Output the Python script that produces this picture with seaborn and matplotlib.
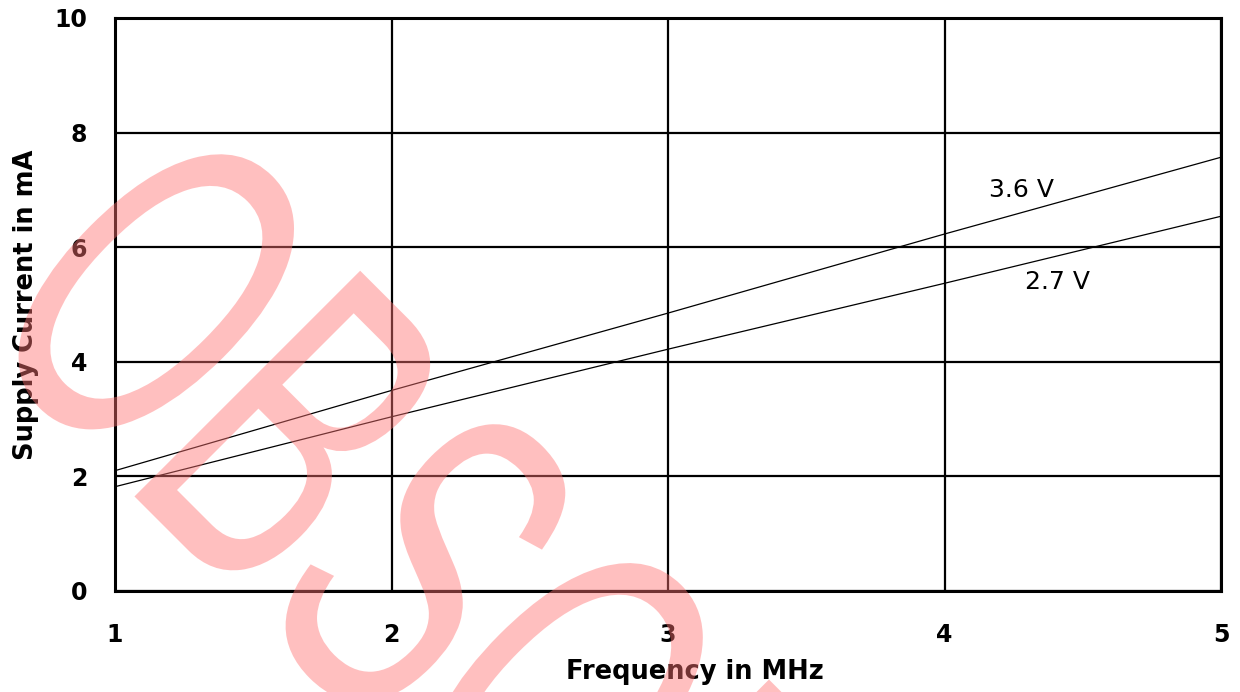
import numpy as np
import pandas as pd
import matplotlib
matplotlib.use("Agg")
import matplotlib.pyplot as plt
import seaborn as sns
from matplotlib.textpath import TextPath
from matplotlib.patches import PathPatch
from matplotlib.font_manager import FontProperties
from matplotlib.transforms import Affine2D

# data
freq_mhz = [1, 2, 3, 4, 5]
current_36v = [2.10, 3.50, 4.85, 6.23, 7.57]
current_27v = [1.82, 3.04, 4.22, 5.37, 6.54]
series_names = ["3.6 V", "2.7 V"]
x_ticks = [1, 2, 3, 4, 5]
y_ticks = [0, 2, 4, 6, 8, 10]

df = pd.DataFrame({
    "freq": freq_mhz * 2,
    "current": current_36v + current_27v,
    "supply": [series_names[0]] * len(freq_mhz) + [series_names[1]] * len(freq_mhz),
})

sns.set_style("white")
plt.rcParams["font.family"] = ["DejaVu Sans"]
plt.rcParams["text.color"] = "black"
plt.rcParams["axes.labelcolor"] = "black"
plt.rcParams["xtick.color"] = "black"
plt.rcParams["ytick.color"] = "black"

fig = plt.figure(figsize=(12.4, 6.92), dpi=100)
ax = fig.add_axes([115 / 1240, 1 - 591 / 692, 1106 / 1240, 573 / 692])

sns.lineplot(data=df, x="freq", y="current", hue="supply",
             palette=["black", "black"], linewidth=0.9, legend=False, ax=ax)

ax.set_xlim(1, 5)
ax.set_ylim(0, 10)
ax.set_xticks(x_ticks)
ax.set_yticks(y_ticks)
ax.set_xticklabels([str(t) for t in x_ticks], fontsize=17, fontweight="bold")
ax.set_yticklabels([str(t) for t in y_ticks], fontsize=17, fontweight="bold")
ax.tick_params(axis="x", length=0, pad=23)
ax.tick_params(axis="y", length=0, pad=20)
ax.grid(True, color="black", linewidth=1.6)
for sp in ax.spines.values():
    sp.set_visible(True)
    sp.set_color("black")
    sp.set_linewidth(2.2)

ax.set_xlabel("Frequency in MHz", fontsize=18.5, fontweight="bold")
ax.set_ylabel("Supply Current in mA", fontsize=18.5, fontweight="bold")
ax.xaxis.set_label_coords(0.524, -0.119)
ax.yaxis.set_label_coords(-0.069, 0.5)

ax.text(4.28, 7.0, series_names[0], fontsize=18, ha="center", va="center")
ax.text(4.41, 5.39, series_names[1], fontsize=18, ha="center", va="center")

# OBSOLETE watermark on top of everything
tp = TextPath((0, 0), "OBSOLETE", size=1,
              prop=FontProperties(family="Liberation Sans"))
em = 464
tr = Affine2D().scale(0.59 * em, em).rotate_deg(-45).translate(-32, 692 - 330)
wm = PathPatch(tp, facecolor=(1.0, 0.45, 0.45), edgecolor="none",
               alpha=0.45, transform=tr, zorder=10)
fig.add_artist(wm)

fig.savefig("out.png", dpi=100)
